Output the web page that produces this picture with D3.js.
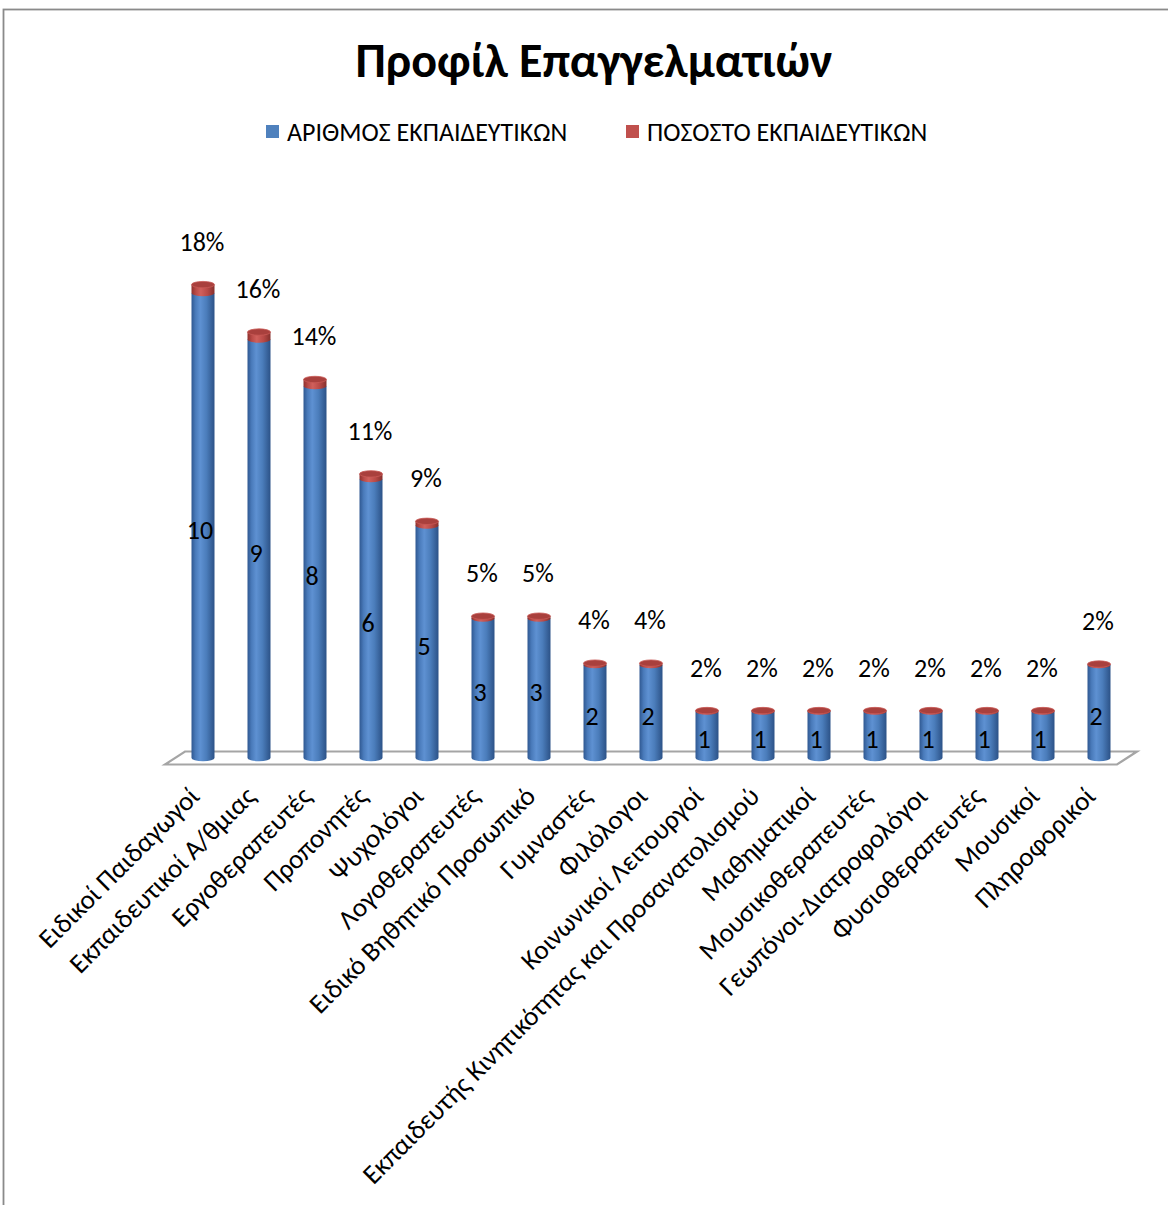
<!DOCTYPE html>
<html>
<head>
<meta charset="utf-8">
<script src="https://cdn.jsdelivr.net/npm/d3@7"></script>
<style>
  html, body { margin: 0; padding: 0; background: #fff; }
  svg { display: block; }
  text { font-family: Carlito, "Open Sans", "Noto Sans", sans-serif; fill: #000; }
</style>
</head>
<body>
<svg id="chart" width="1168" height="1205"></svg>
<script>
// Professions of the teaching staff, count and share
const categories = [
  "Ειδικοί Παιδαγωγοί",
  "Εκπαιδευτικοί Α/θμιας",
  "Εργοθεραπευτές",
  "Προπονητές",
  "Ψυχολόγοι",
  "Λογοθεραπευτές",
  "Ειδικό Βηθητικό Προσωπικό",
  "Γυμναστές",
  "Φιλόλογοι",
  "Κοινωνικοί Λειτουργοί",
  "Εκπαιδευτής Κινητικότητας και Προσανατολισμού",
  "Μαθηματικοί",
  "Μουσικοθεραπευτές",
  "Γεωπόνοι-Διατροφολόγοι",
  "Φυσιοθεραπευτές",
  "Μουσικοί",
  "Πληροφορικοί"
];
const countValues = [10, 9, 8, 6, 5, 3, 3, 2, 2, 1, 1, 1, 1, 1, 1, 1, 2];
const shareValues = [0.18, 0.16, 0.14, 0.11, 0.09, 0.05, 0.05, 0.04, 0.04, 0.02, 0.02, 0.02, 0.02, 0.02, 0.02, 0.02, 0.02];
const seriesNames = ["ΑΡΙΘΜΟΣ ΕΚΠΑΙΔΕΥΤΙΚΩΝ", "ΠΟΣΟΣΤΟ ΕΚΠΑΙΔΕΥΤΙΚΩΝ"];
const chartTitle = "Προφίλ Επαγγελματιών";

const svg = d3.select("#chart");
const W = 1168, H = 1205;

const blue = "#4F81BD", red = "#C0504D";

// outer chart frame (only top and left edges fall inside the view)
svg.append("rect")
  .attr("x", 3.5).attr("y", 9.5)
  .attr("width", W + 20).attr("height", H + 20)
  .attr("fill", "#fff").attr("stroke", "#8a8a8a").attr("stroke-width", 1.8);

// gradients for the cylinder shading
const defs = svg.append("defs");
function cylGrad(id, stops) {
  const g = defs.append("linearGradient").attr("id", id)
    .attr("x1", "0%").attr("x2", "100%").attr("y1", "0%").attr("y2", "0%");
  stops.forEach(([o, c]) => g.append("stop").attr("offset", o).attr("stop-color", c));
}
cylGrad("gBlue", [["0%", "#2f5891"], ["18%", "#4a7bbb"], ["38%", "#5e91d2"], ["65%", "#4b7dbb"], ["100%", "#2c5287"]]);
cylGrad("gRed", [["0%", "#8f302d"], ["20%", "#bb4b48"], ["40%", "#d0605c"], ["70%", "#b84946"], ["100%", "#85302d"]]);

// scales
const x = d3.scalePoint().domain(categories).range([203, 1099]);
const y = d3.scaleLinear().domain([0, 10]).range([758, 293]);

const bw = 23, rx = bw / 2, ry = 3.2;

// floor of the 3-D plot area
const floorBack = y(0) - 6.5, floorFront = y(0) + 6.5;
svg.append("polygon")
  .attr("points", [[185, floorBack], [1137, floorBack], [1117, floorFront], [165, floorFront]].map(p => p.join(",")).join(" "))
  .attr("fill", "#fff").attr("stroke", "#a5a5a5").attr("stroke-width", 2.2);

const rows = categories.map((c, i) => ({ cat: c, n: countValues[i], p: shareValues[i] }));

// cylinder body path: straight sides, elliptical bottom edge
function bodyPath(cx, top, bottom) {
  const l = cx - rx, r = cx + rx;
  return `M${l},${top} L${l},${bottom} A${rx},${ry} 0 0 0 ${r},${bottom} L${r},${top} Z`;
}

const bars = svg.append("g").selectAll("g").data(rows).join("g");

bars.append("path")
  .attr("d", d => bodyPath(x(d.cat), y(d.n), y(0)))
  .attr("fill", "url(#gBlue)");

bars.append("path")
  .attr("d", d => bodyPath(x(d.cat), y(d.n + d.p), y(d.n)))
  .attr("fill", "url(#gRed)");

bars.append("ellipse")
  .attr("cx", d => x(d.cat)).attr("cy", d => y(d.n + d.p))
  .attr("rx", rx).attr("ry", ry)
  .attr("fill", "#a9403d").attr("stroke", "#c95955").attr("stroke-width", 0.8);

// count labels in the middle of each cylinder
bars.append("text")
  .attr("x", d => x(d.cat) - 3)
  .attr("y", d => (y(d.n) + y(0)) / 2 + 13)
  .attr("text-anchor", "middle")
  .attr("font-size", 26)
  .text(d => d.n);

// share labels above each cylinder
bars.append("text")
  .attr("x", d => x(d.cat) - 1)
  .attr("y", d => y(d.n + d.p) - 34)
  .attr("text-anchor", "middle")
  .attr("font-size", 26)
  .text(d => d3.format(".0%")(d.p));

// category axis labels, rotated
svg.append("g").selectAll("text").data(categories).join("text")
  .attr("transform", d => `translate(${x(d) - 2},${798}) rotate(-45)`)
  .attr("text-anchor", "end")
  .attr("font-size", 27)
  .text(d => d);

// title
svg.append("text")
  .attr("x", 594).attr("y", 77)
  .attr("text-anchor", "middle")
  .attr("font-size", 48).attr("font-weight", "bold")
  .text(chartTitle);

// legend
const legend = svg.append("g");
const legendX = [266, 626];
seriesNames.forEach((name, i) => {
  legend.append("rect")
    .attr("x", legendX[i]).attr("y", 125).attr("width", 13).attr("height", 13)
    .attr("fill", i === 0 ? blue : red);
  legend.append("text")
    .attr("x", legendX[i] + 21).attr("y", 141)
    .attr("font-size", 26)
    .text(name);
});
</script>
</body>
</html>
